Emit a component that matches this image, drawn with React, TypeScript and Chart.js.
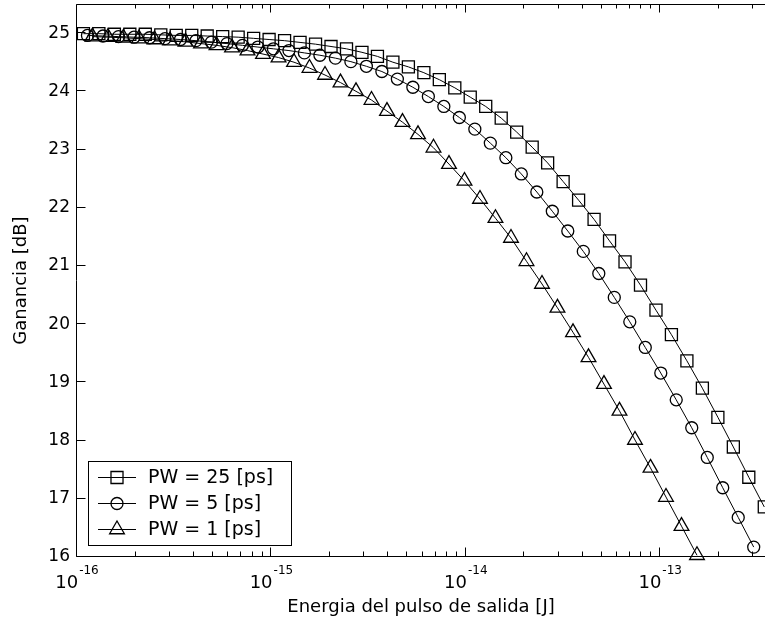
import React, { useEffect, useRef } from 'react';
import { Chart, registerables } from 'chart.js';

Chart.register(...registerables);

const FONT = '"DejaVu Sans", "Liberation Sans", sans-serif';

const seriesLabels = ['PW = 25 [ps]', 'PW = 5 [ps]', 'PW = 1 [ps]'];
const seriesStyles = ['rect', 'circle', 'triangle'];

// Output pulse energy [J] and gain [dB]
const energyPW25 = [
  1.079e-16, 1.296e-16, 1.557e-16, 1.870e-16, 2.246e-16, 2.698e-16, 3.240e-16, 3.893e-16, 4.675e-16, 5.616e-16,
  6.745e-16, 8.102e-16, 9.732e-16, 1.169e-15, 1.404e-15, 1.687e-15, 2.026e-15, 2.434e-15, 2.923e-15, 3.511e-15,
  4.217e-15, 5.066e-15, 6.085e-15, 7.309e-15, 8.779e-15, 1.054e-14, 1.266e-14, 1.521e-14, 1.827e-14, 2.195e-14,
  2.636e-14, 3.167e-14, 3.804e-14, 4.569e-14, 5.488e-14, 6.592e-14, 7.918e-14, 9.511e-14, 1.142e-13, 1.372e-13,
  1.648e-13, 1.980e-13, 2.378e-13, 2.856e-13, 3.431e-13,
];
const gainPW25 = [
  24.99, 24.99, 24.98, 24.98, 24.98, 24.97, 24.96, 24.96, 24.95, 24.94,
  24.93, 24.91, 24.89, 24.87, 24.84, 24.81, 24.77, 24.73, 24.67, 24.60,
  24.50, 24.42, 24.32, 24.20, 24.06, 23.90, 23.74, 23.54, 23.30, 23.04,
  22.77, 22.45, 22.13, 21.80, 21.43, 21.07, 20.67, 20.24, 19.82, 19.37,
  18.90, 18.40, 17.89, 17.37, 16.86,
];

const energyPW5 = [
  1.132e-16, 1.360e-16, 1.635e-16, 1.964e-16, 2.360e-16, 2.835e-16, 3.406e-16, 4.092e-16, 4.916e-16, 5.906e-16,
  7.096e-16, 8.525e-16, 1.024e-15, 1.231e-15, 1.478e-15, 1.776e-15, 2.134e-15, 2.564e-15, 3.080e-15, 3.701e-15,
  4.446e-15, 5.341e-15, 6.418e-15, 7.710e-15, 9.264e-15, 1.113e-14, 1.337e-14, 1.607e-14, 1.930e-14, 2.319e-14,
  2.786e-14, 3.347e-14, 4.022e-14, 4.832e-14, 5.805e-14, 6.975e-14, 8.379e-14, 1.007e-13, 1.209e-13, 1.453e-13,
  1.746e-13, 2.097e-13, 2.520e-13, 3.027e-13,
];
const gainPW5 = [
  24.96, 24.95, 24.94, 24.93, 24.92, 24.905, 24.89, 24.87, 24.845, 24.82,
  24.79, 24.76, 24.73, 24.70, 24.66, 24.62, 24.57, 24.51, 24.43, 24.34,
  24.21, 24.07, 23.91, 23.74, 23.55, 23.35, 23.11, 22.86, 22.58, 22.27,
  21.94, 21.60, 21.25, 20.87, 20.46, 20.04, 19.60, 19.16, 18.70, 18.22,
  17.71, 17.19, 16.68, 16.17,
];

const energyPW1 = [
  1.201e-16, 1.443e-16, 1.734e-16, 2.084e-16, 2.504e-16, 3.009e-16, 3.615e-16, 4.344e-16, 5.220e-16,
  6.272e-16, 7.534e-16, 9.054e-16, 1.088e-15, 1.307e-15, 1.570e-15, 1.887e-15, 2.267e-15, 2.724e-15, 3.273e-15,
  3.932e-15, 4.724e-15, 5.677e-15, 6.820e-15, 8.195e-15, 9.847e-15, 1.183e-14, 1.421e-14, 1.708e-14, 2.052e-14,
  2.466e-14, 2.962e-14, 3.560e-14, 4.277e-14, 5.138e-14, 6.174e-14, 7.418e-14, 8.913e-14, 1.071e-13, 1.287e-13,
  1.546e-13,
];
const gainPW1 = [
  24.94, 24.93, 24.92, 24.905, 24.89, 24.87, 24.85, 24.82, 24.79,
  24.75, 24.70, 24.64, 24.58, 24.50, 24.40, 24.28, 24.15, 24.00, 23.85,
  23.66, 23.47, 23.26, 23.03, 22.75, 22.46, 22.15, 21.82, 21.48, 21.08,
  20.69, 20.28, 19.86, 19.43, 18.97, 18.51, 18.01, 17.53, 17.03, 16.53,
  16.03,
];

const yTicks = [16, 17, 18, 19, 20, 21, 22, 23, 24, 25];
const xDecadeExponents = [-16, -15, -14, -13];
const xMinorMultipliers = [2, 3, 4, 5, 6, 7, 8, 9];
const xMin = 1e-16;
const xMax = 3.46e-13;
const yMin = 16;
const yMax = 25.5;

function shapePath(ctx: CanvasRenderingContext2D, style: string, x: number, y: number, r: number) {
  ctx.beginPath();
  if (style === 'rect') {
    const s = r * Math.SQRT1_2;
    ctx.rect(x - s, y - s, 2 * s, 2 * s);
  } else if (style === 'circle') {
    ctx.arc(x, y, r, 0, Math.PI * 2);
  } else {
    let a = 0;
    ctx.moveTo(x + Math.sin(a) * r, y - Math.cos(a) * r);
    a += (2 * Math.PI) / 3;
    ctx.lineTo(x + Math.sin(a) * r, y - Math.cos(a) * r);
    a += (2 * Math.PI) / 3;
    ctx.lineTo(x + Math.sin(a) * r, y - Math.cos(a) * r);
    ctx.closePath();
  }
  ctx.stroke();
}

const framePlugin = {
  id: 'matlabFrame',
  afterDraw(chart: any) {
    const ctx: CanvasRenderingContext2D = chart.ctx;
    const { left, right, top, bottom } = chart.chartArea;
    const xs = chart.scales.x;
    const ys = chart.scales.y;
    ctx.save();
    ctx.strokeStyle = '#000';
    ctx.lineWidth = 1;
    const L = Math.round(left) - 0.5;
    const T = Math.round(top) + 0.5;
    const B = Math.round(bottom) - 0.5;
    ctx.beginPath();
    ctx.moveTo(L, T);
    ctx.lineTo(right + 20, T);
    ctx.moveTo(L, T);
    ctx.lineTo(L, B);
    ctx.lineTo(right + 20, B);
    ctx.stroke();

    // x ticks (inward, bottom and top)
    ctx.beginPath();
    xDecadeExponents.forEach((e) => {
      const vals = [{ v: Math.pow(10, e), len: 9 }].concat(
        xMinorMultipliers.map((m) => ({ v: m * Math.pow(10, e), len: 5 }))
      );
      vals.forEach(({ v, len }) => {
        if (v < xMin || v > xMax) return;
        const px = Math.round(xs.getPixelForValue(v)) - 0.5;
        ctx.moveTo(px, B);
        ctx.lineTo(px, B - len);
        ctx.moveTo(px, T);
        ctx.lineTo(px, T + len - 1);
      });
    });
    // y ticks (inward, left)
    yTicks.forEach((v) => {
      const py = Math.round(ys.getPixelForValue(v)) - 0.5;
      ctx.moveTo(L, py);
      ctx.lineTo(L + 9, py);
    });
    ctx.stroke();

    // x tick labels: 10^e
    ctx.fillStyle = '#000';
    ctx.textBaseline = 'alphabetic';
    ctx.textAlign = 'left';
    xDecadeExponents.forEach((e) => {
      const px = xs.getPixelForValue(Math.pow(10, e));
      ctx.font = `18px ${FONT}`;
      const base = '10';
      const wb = ctx.measureText(base).width;
      ctx.font = `12px ${FONT}`;
      const ex = String(e);
      const we = ctx.measureText(ex).width;
      const start = px - (wb + 1 + we) / 2;
      ctx.font = `18px ${FONT}`;
      ctx.fillText(base, start, bottom + 31);
      ctx.font = `12px ${FONT}`;
      ctx.fillText(ex, start + wb + 1, bottom + 17);
    });
    ctx.restore();
  },
};

const legendPlugin = {
  id: 'matlabLegend',
  afterDraw(chart: any) {
    const ctx: CanvasRenderingContext2D = chart.ctx;
    const { left, bottom } = chart.chartArea;
    const bx = Math.round(left) + 11;
    const by = Math.round(bottom) - 96;
    const bw = 203;
    const bh = 84;
    ctx.save();
    ctx.fillStyle = '#fff';
    ctx.fillRect(bx, by, bw, bh);
    ctx.strokeStyle = '#000';
    ctx.lineWidth = 1;
    ctx.strokeRect(bx + 0.5, by + 0.5, bw, bh);
    chart.data.datasets.forEach((ds: any, i: number) => {
      const y = by + 16.5 + i * 26;
      ctx.strokeStyle = '#000';
      ctx.lineWidth = 1;
      ctx.beginPath();
      ctx.moveTo(bx + 10, y);
      ctx.lineTo(bx + 48, y);
      ctx.stroke();
      ctx.lineWidth = 1.3;
      shapePath(ctx, ds.pointStyle, bx + 29, y, ds.pointRadius);
      ctx.fillStyle = '#000';
      ctx.font = `19px ${FONT}`;
      ctx.textBaseline = 'middle';
      ctx.textAlign = 'left';
      ctx.fillText(ds.label, bx + 60, y + 1);
    });
    ctx.restore();
  },
};

export default function App() {
  const ref = useRef<HTMLCanvasElement>(null);
  useEffect(() => {
    const canvas = ref.current;
    if (!canvas) return;
    const energies = [energyPW25, energyPW5, energyPW1];
    const gains = [gainPW25, gainPW5, gainPW1];
    const radii = [8.5, 6, 8.5];
    const chart = new Chart(canvas, {
      type: 'line',
      data: {
        datasets: seriesLabels.map((label, k) => ({
          label,
          data: energies[k].map((x, i) => ({ x, y: gains[k][i] })),
          borderColor: '#000',
          borderWidth: 1,
          backgroundColor: 'rgba(0,0,0,0)',
          pointStyle: seriesStyles[k] as any,
          pointRadius: radii[k],
          pointBorderColor: '#000',
          pointBorderWidth: 1.3,
          pointBackgroundColor: 'rgba(0,0,0,0)',
          tension: 0,
          fill: false,
          clip: false as any,
        })),
      },
      options: {
        animation: false,
        responsive: false,
        devicePixelRatio: 1,
        layout: { autoPadding: false, padding: { top: 4, right: 0, left: 0, bottom: 0 } },
        plugins: { legend: { display: false }, tooltip: { enabled: false } },
        scales: {
          x: {
            type: 'logarithmic',
            min: xMin,
            max: xMax,
            grid: { display: false, drawTicks: false },
            border: { display: false },
            ticks: { display: false },
            title: {
              display: true,
              text: 'Energia del pulso de salida [J]',
              color: '#000',
              font: { family: FONT, size: 18 },
              padding: { top: 0, bottom: 7 },
            },
            afterFit: (s: any) => {
              s.height = 68;
              s.paddingLeft = 0;
              s.paddingRight = 0;
            },
          },
          y: {
            type: 'linear',
            min: yMin,
            max: yMax,
            afterBuildTicks: (s: any) => {
              s.ticks = yTicks.map((v) => ({ value: v }));
            },
            grid: { display: false, drawTicks: false },
            border: { display: false },
            ticks: { color: '#000', font: { family: FONT, size: 17 }, padding: 7 },
            title: {
              display: true,
              text: 'Ganancia [dB]',
              color: '#000',
              font: { family: FONT, size: 18 },
              padding: { top: 11, bottom: 0 },
            },
            afterFit: (s: any) => {
              s.width = 77;
              s.paddingTop = 0;
              s.paddingBottom = 0;
            },
          },
        },
      },
      plugins: [framePlugin, legendPlugin],
    });
    return () => chart.destroy();
  }, []);
  return (
    <div style={{ position: 'fixed', left: 0, top: 0, width: 765, height: 625, background: '#fff', overflow: 'hidden' }}>
      <canvas ref={ref} width={765} height={625} style={{ display: 'block' }} />
    </div>
  );
}
